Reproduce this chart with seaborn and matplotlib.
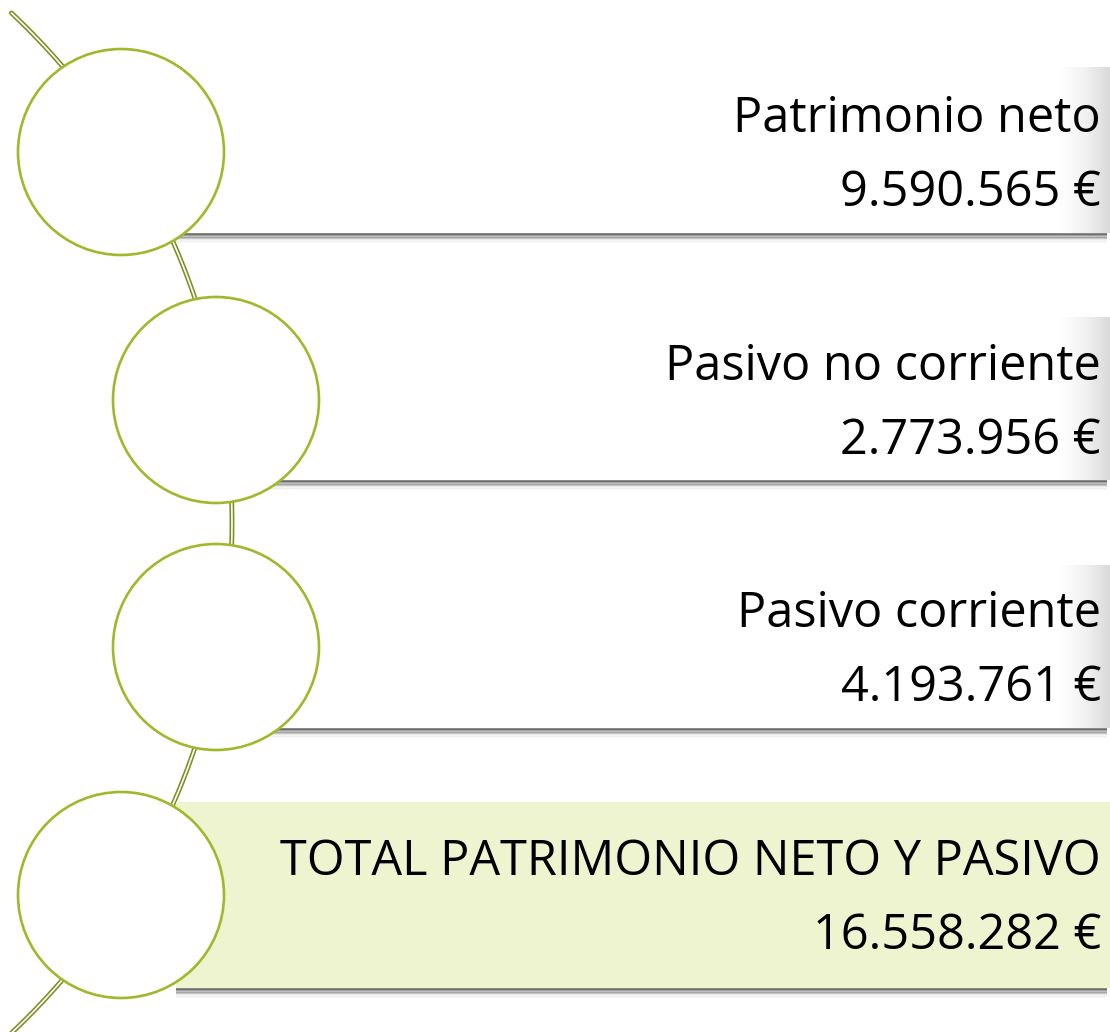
import matplotlib
matplotlib.use("Agg")
import matplotlib.pyplot as plt
import seaborn as sns
import numpy as np
import pandas as pd
from matplotlib.patches import Circle, Rectangle

# Data
labels = ["Patrimonio neto", "Pasivo no corriente", "Pasivo corriente",
          "TOTAL PATRIMONIO NETO Y PASIVO"]
values = [9590565, 2773956, 4193761, 16558282]
highlight = [False, False, False, True]

# Layout (pixel space)
W, H = 1110, 1032
circle_x = [121, 216, 216, 121]
row_y = [152, 400, 647, 895]
box_top = [67, 317, 565, 802]
box_bot = [235, 482, 730, 990]
radius = 103

GREEN_EDGE = "#a0b82b"
CURVE = "#7d8e20"
HILITE = "#eef4d0"


def euro(v):
    return f"{v:,}".replace(",", ".") + " €"


sns.set_theme(style="white")
plt.rcParams["font.family"] = ["Open Sans", "DejaVu Sans"]

fig = plt.figure(figsize=(W / 100, H / 100), dpi=100)
ax = fig.add_axes([0, 0, 1, 1])
ax.set_xlim(0, W)
ax.set_ylim(H, 0)
ax.axis("off")

# Background arc (double line) drawn with seaborn
R, cx, cy = 700, 232 - 700, 523
ys = np.linspace(13, 1045, 400)
xs = cx + np.sqrt(R ** 2 - (ys - cy) ** 2)
arc = pd.DataFrame({"x": xs, "y": ys})
sns.lineplot(data=arc, x="x", y="y", sort=False, estimator=None,
             color=CURVE, lw=3.5, ax=ax, zorder=1)
sns.lineplot(data=arc, x="x", y="y", sort=False, estimator=None,
             color="white", lw=1.2, ax=ax, zorder=1.1)
ax.set_xlim(0, W)
ax.set_ylim(H, 0)
ax.set_xlabel("")
ax.set_ylabel("")

# Boxes
grad = np.linspace(0, 1, 100).reshape(1, -1)
for i in range(len(labels)):
    x0 = circle_x[i] + 55
    top, bot = box_top[i], box_bot[i]
    # shadow below the box
    for k, a in enumerate([0.75, 0.6, 0.42, 0.26, 0.14, 0.07, 0.03]):
        ax.plot([x0, W - 3], [bot - 1 + k * 1.3, bot - 1 + k * 1.3],
                color="#555555", alpha=a, lw=1.3, zorder=2,
                solid_capstyle="butt")
    if highlight[i]:
        ax.add_patch(Rectangle((x0, top), W - x0, bot - top - 2,
                               facecolor=HILITE, edgecolor="none", zorder=3))
    else:
        ax.add_patch(Rectangle((x0, top), W - x0, bot - top - 2,
                               facecolor="white", edgecolor="none", zorder=3))
        cmap = matplotlib.colors.LinearSegmentedColormap.from_list(
            "fade", ["#ffffff", "#ffffff", "#f2f2f2", "#dadada"])
        ax.imshow(grad, extent=(W - 75, W, bot - 2, top), cmap=cmap,
                  aspect="auto", zorder=3.1, interpolation="bilinear")

    ax.text(W - 9, row_y[i] - 20, labels[i], ha="right", va="baseline",
            fontsize=35, color="black", zorder=5)
    ax.text(W - 9, row_y[i] + 54, euro(values[i]), ha="right",
            va="baseline", fontsize=35, color="black", zorder=5)

# Circles
for i in range(len(labels)):
    ax.add_patch(Circle((circle_x[i], row_y[i]), radius, facecolor="white",
                        edgecolor=GREEN_EDGE, lw=1.9, zorder=4))

ax.set_xlim(0, W)
ax.set_ylim(H, 0)
fig.savefig("out.png", dpi=100, facecolor="white")
